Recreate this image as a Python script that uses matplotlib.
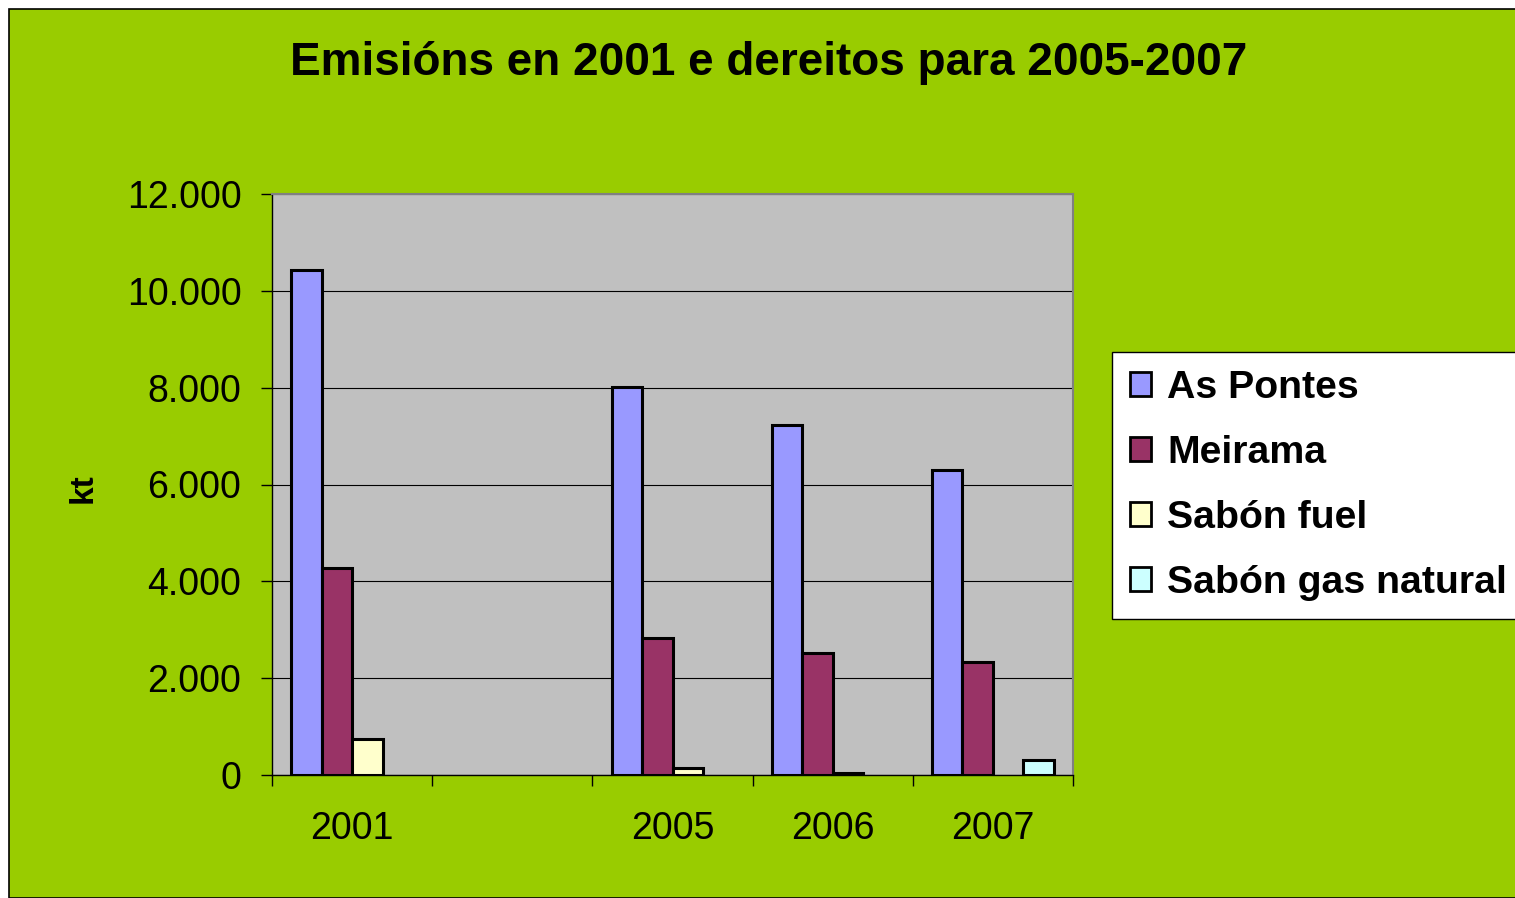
import numpy as np
from matplotlib import pyplot as plt
from matplotlib.patches import Rectangle

plt.rcParams['font.family'] = ['Liberation Sans', 'DejaVu Sans']

# Categorías (hai un oco baleiro entre 2001 e 2005)
categories = ['2001', '', '2005', '2006', '2007']
series_names = ['As Pontes', 'Meirama', 'Sabón fuel', 'Sabón gas natural']
as_pontes = [10420, 0, 8020, 7220, 6300]
meirama = [4270, 0, 2820, 2530, 2330]
sabon_fuel = [740, 0, 150, 50, 0]
sabon_gas = [0, 0, 0, 0, 300]
colors = ['#9999FF', '#993366', '#FFFFCC', '#CCFFFF']
y_ticks = [0, 2000, 4000, 6000, 8000, 10000, 12000]
y_tick_labels = ['0', '2.000', '4.000', '6.000', '8.000', '10.000', '12.000']

fig = plt.figure(figsize=(15.15, 8.98), dpi=100)
fig.patch.set_facecolor('white')
fig.patches.append(Rectangle((9 / 1515, 0), 1.2, 889 / 898, transform=fig.transFigure,
                             facecolor='#99CC00', edgecolor='black', linewidth=1.2, zorder=-5))

ax = fig.add_axes([272 / 1515, 1 - 775 / 898, 801 / 1515, 581 / 898])
ax.set_facecolor('#C0C0C0')

x = np.arange(len(categories))
w = 0.19
data = [as_pontes, meirama, sabon_fuel, sabon_gas]
for i, (vals, name, c) in enumerate(zip(data, series_names, colors)):
    xs, vs = [], []
    for xi, v in zip(x, vals):
        if v > 0:
            xs.append(xi + (i - 1.5) * w)
            vs.append(v)
    ax.bar(xs, vs, width=w, color=c, edgecolor='black', linewidth=2.2, label=name, zorder=3)

ax.set_xlim(-0.5, len(categories) - 0.5)
ax.set_ylim(0, 12000)
ax.set_yticks(y_ticks)
ax.set_yticklabels(y_tick_labels, fontsize=27)
ax.set_xticks(x)
ax.set_xticklabels(categories, fontsize=27)
ax.set_xticks(np.arange(-0.5, len(categories), 1), minor=True)
ax.tick_params(axis='x', which='major', length=0, pad=26)
ax.tick_params(axis='x', which='minor', length=8, width=1, direction='out')
ax.tick_params(axis='y', length=8, width=1, direction='out', pad=14)
ax.grid(axis='y', color='black', linewidth=0.8, zorder=1)
ax.set_axisbelow(True)
for s in ['top', 'right']:
    ax.spines[s].set_color('#808080')
    ax.spines[s].set_linewidth(1.5)
for s in ['left', 'bottom']:
    ax.spines[s].set_color('black')
    ax.spines[s].set_linewidth(1)

fig.text(83 / 1515, 1 - 488 / 898, 'kt', rotation=90, fontsize=24, fontweight='bold',
         ha='center', va='center')
fig.text(769 / 1515, 1 - 63 / 898, 'Emisións en 2001 e dereitos para 2005-2007',
         fontsize=33, fontweight='bold', ha='center', va='center')

leg = fig.legend(loc='upper left', bbox_to_anchor=(1112 / 1515, 1 - 352 / 898),
                 fontsize=28.3, frameon=True, fancybox=False, edgecolor='black',
                 facecolor='white', framealpha=1,
                 handlelength=0.55, handleheight=0.55, handletextpad=0.4,
                 labelspacing=0.74, borderpad=0.45, borderaxespad=0)
leg.get_frame().set_linewidth(1)
for t in leg.get_texts():
    t.set_fontweight('bold')
for h in leg.legend_handles:
    h.set_linewidth(2)

fig.savefig('out.png', dpi=100, facecolor=fig.get_facecolor())
